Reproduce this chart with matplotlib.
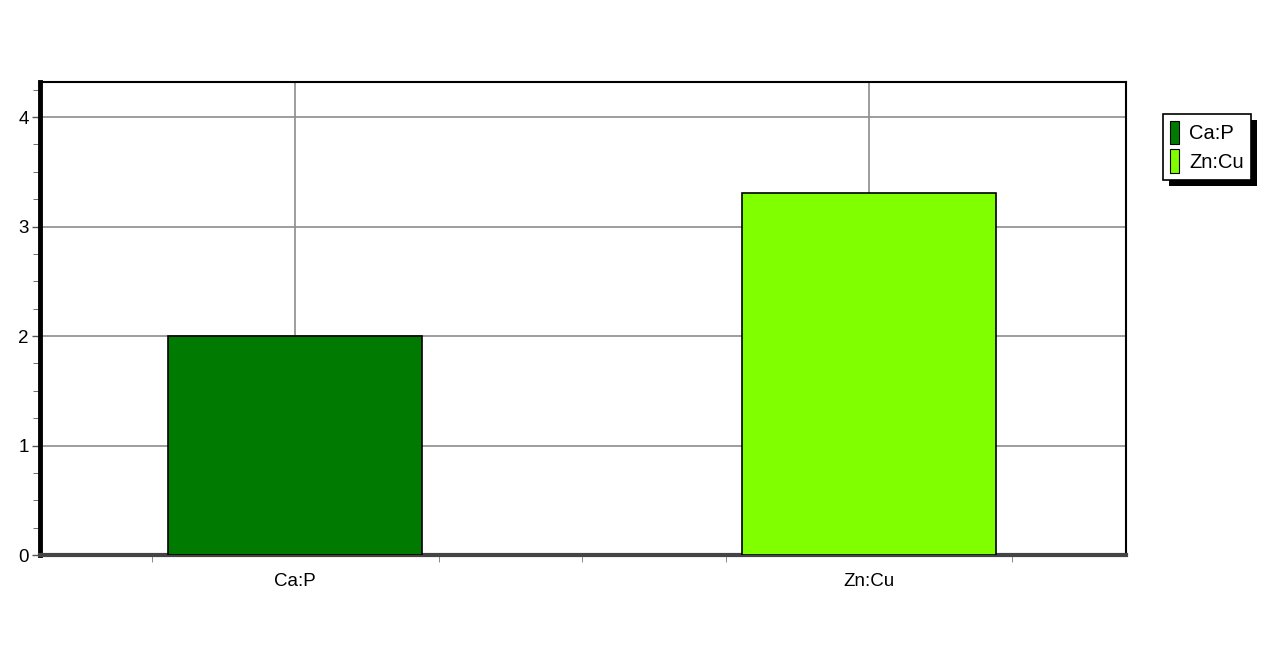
import matplotlib
matplotlib.use('Agg')
import matplotlib.pyplot as plt
from matplotlib.patches import Rectangle
from matplotlib.ticker import MultipleLocator, FixedLocator

# Data
categories = ['Ca:P', 'Zn:Cu']
values = [2.0, 3.31]
colors = ['#007a00', '#80ff00']

plt.rcParams['font.family'] = ['Arial', 'Liberation Sans', 'DejaVu Sans']

fig = plt.figure(figsize=(12.7, 6.67), dpi=100)
ax = fig.add_axes([40 / 1270, 1 - 555 / 667, 1086 / 1270, 473 / 667])

x = list(range(len(categories)))
bars = ax.bar(x, values, width=0.4425, color=colors, edgecolor='black',
              linewidth=1.2, zorder=3, label=categories)

ax.set_xlim(-0.445, 1.448)
ax.set_ylim(0, 4.32)
ax.set_xticks(x)
ax.set_xticklabels(categories, fontsize=13.5)
ax.xaxis.set_minor_locator(FixedLocator([-0.25, 0.25, 0.5, 0.75, 1.25]))
ax.set_yticks([0, 1, 2, 3, 4])
ax.yaxis.set_minor_locator(MultipleLocator(0.25))
ax.tick_params(axis='y', labelsize=13.5, length=6, color='#555555', width=1, pad=2)
ax.tick_params(axis='y', which='minor', length=5, color='#555555')
ax.tick_params(axis='x', which='major', length=8, color='#777777', direction='in', pad=13)
ax.tick_params(axis='x', which='minor', length=5, color='#777777', direction='out')

ax.grid(True, which='major', color='#8c8c8c', linewidth=1.2, zorder=0)
ax.set_axisbelow(True)

ax.spines['left'].set_linewidth(3.5)
ax.spines['left'].set_color('black')
ax.spines['bottom'].set_linewidth(3)
ax.spines['bottom'].set_color('#444444')
ax.spines['top'].set_linewidth(1.5)
ax.spines['right'].set_linewidth(1.5)

handles = [Rectangle((0, 0), 1, 1, facecolor=c, edgecolor='black', linewidth=0.8)
           for c in colors]
leg = fig.legend(handles, categories, loc='upper left',
                 bbox_to_anchor=(1163 / 1270, 1 - 114 / 667),
                 fontsize=14.5, frameon=True, fancybox=False, shadow=False,
                 handlelength=0.45, handleheight=1.4, handletextpad=0.5,
                 borderpad=0.35, labelspacing=0.25, borderaxespad=0)
leg.get_frame().set_edgecolor('black')
leg.get_frame().set_linewidth(1.2)
leg.get_frame().set_alpha(1)
leg.set_zorder(5)

# solid black drop shadow behind the legend box
fig.canvas.draw()
bb = leg.get_window_extent().transformed(fig.transFigure.inverted())
off_x, off_y = 6 / 1270, 6 / 667
fig.patches.append(Rectangle((bb.x0 + off_x, bb.y0 - off_y), bb.width, bb.height,
                             transform=fig.transFigure, facecolor='black',
                             edgecolor='none', zorder=4))

fig.savefig('out.png', dpi=100)
